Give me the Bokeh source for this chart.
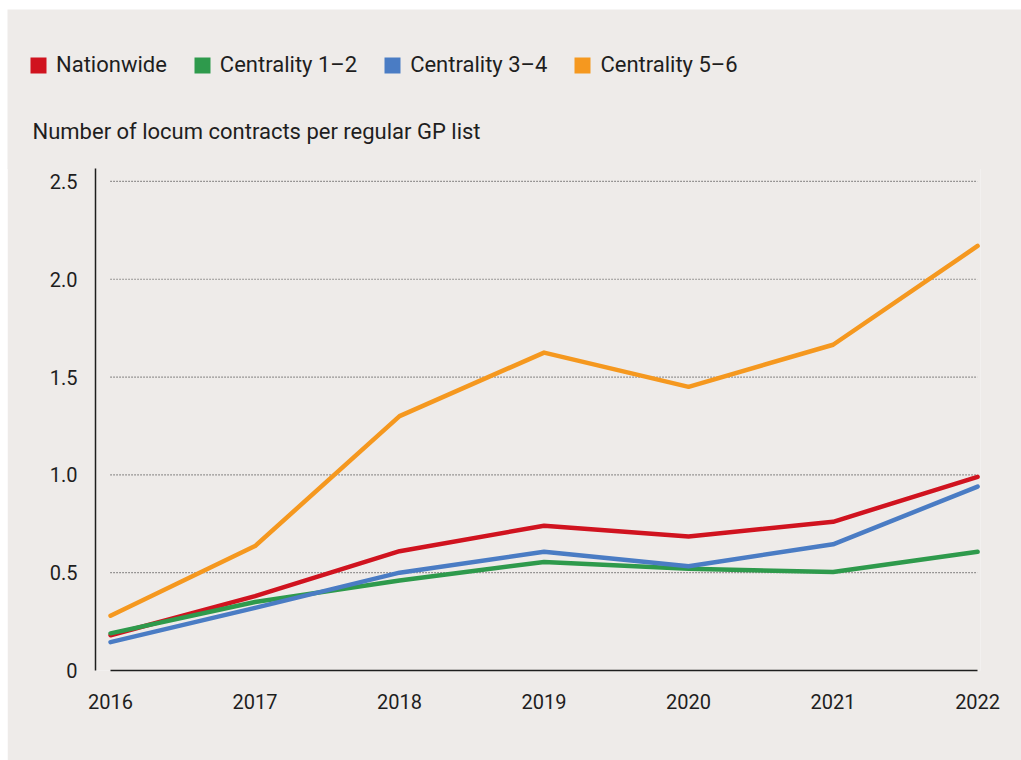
from bokeh.plotting import figure
from bokeh.models import Range1d, FixedTicker, Legend, LegendItem, Label, ColumnDataSource
from bokeh.embed import file_html
from bokeh.resources import INLINE

# ---- data ----
years = [2016, 2017, 2018, 2019, 2020, 2021, 2022]
nationwide = [0.18, 0.38, 0.61, 0.74, 0.685, 0.76, 0.99]
centrality_1_2 = [0.19, 0.35, 0.46, 0.555, 0.52, 0.503, 0.607]
centrality_3_4 = [0.145, 0.32, 0.50, 0.607, 0.533, 0.645, 0.94]
centrality_5_6 = [0.28, 0.636, 1.30, 1.625, 1.45, 1.665, 2.17]
series_names = ["Nationwide", "Centrality 1–2", "Centrality 3–4", "Centrality 5–6"]
y_ticks = [0, 0.5, 1.0, 1.5, 2.0, 2.5]
y_tick_labels = ["0", "0.5", "1.0", "1.5", "2.0", "2.5"]
x_tick_labels = ["2016", "2017", "2018", "2019", "2020", "2021", "2022"]
axis_title = "Number of locum contracts per regular GP list"

# ---- style ----
colors = ["#d0131f", "#2e9a4c", "#4a7cc4", "#f5981f"]
bg = "#eeebe9"
ink = "#1e1e1e"
font = "Roboto"

# ---------- header figure: legend + axis title ----------
head = figure(width=1014, height=160, output_backend="svg", toolbar_location=None,
              title=None, margin=(9, 0, 0, 7),
              x_range=Range1d(0, 1), y_range=Range1d(0, 1),
              x_axis_type=None, y_axis_type=None,
              min_border=0, min_border_left=0, min_border_right=0,
              min_border_top=0, min_border_bottom=0,
              background_fill_color=bg, border_fill_color=bg, outline_line_color=None)
head.xgrid.visible = False
head.ygrid.visible = False

nan = float("nan")
items = []
for name, c in zip(series_names, colors):
    src = ColumnDataSource(dict(left=[nan], right=[nan], top=[nan], bottom=[nan]))
    r = head.quad(left="left", right="right", top="top", bottom="bottom", source=src,
                  fill_color=c, line_color=None)
    items.append(LegendItem(label=name, renderers=[r]))

legend = Legend(items=items, orientation="horizontal", location=(21, 92),
                glyph_width=20, glyph_height=20, label_standoff=8, spacing=25,
                padding=0, margin=0, border_line_color=None,
                background_fill_alpha=0,
                label_text_font=font, label_text_font_size="22px",
                label_text_color=ink)
head.add_layout(legend)

title = Label(text=axis_title, x=25, y=38, x_units="screen", y_units="screen",
              text_font=font, text_font_size="22px", text_color=ink,
              text_baseline="alphabetic", text_align="left")
head.add_layout(title)

# ---------- main chart ----------
p = figure(width=1014, height=592, output_backend="svg", toolbar_location=None,
           title=None, margin=(-1, 0, 0, 7),
           x_range=Range1d(2015.896, 2022.02), y_range=Range1d(0, 2.566),
           min_border_left=88, min_border_right=41, min_border_bottom=90,
           min_border_top=0,
           background_fill_color=bg, border_fill_color=bg, outline_line_color=None)

p.xgrid.visible = False
p.ygrid.visible = False

grid_y = [t for t in y_ticks if t > 0]
p.segment(x0=[years[0]] * len(grid_y), x1=[years[-1]] * len(grid_y),
          y0=grid_y, y1=grid_y, line_color="#444444", line_width=1.2,
          line_dash="1 2")

series = [nationwide, centrality_1_2, centrality_3_4, centrality_5_6]
for vals, c in zip(series, colors):
    p.line(years, vals, line_color=c, line_width=4.5, line_cap="round", line_join="round")

p.yaxis.ticker = FixedTicker(ticks=y_ticks)
p.yaxis.major_label_overrides = dict(zip(y_ticks, y_tick_labels))
p.yaxis.major_label_standoff = 18

p.xaxis.ticker = FixedTicker(ticks=years)
p.xaxis.major_label_overrides = dict(zip(years, x_tick_labels))
p.xaxis.major_label_standoff = 23
p.xaxis.bounds = (years[0], years[-1])

for ax in (p.xaxis, p.yaxis):
    ax.major_tick_out = 0
    ax.major_tick_in = 0
    ax.minor_tick_out = 0
    ax.minor_tick_in = 0
    ax.axis_line_color = ink
    ax.axis_line_width = 1.5
    ax.major_label_text_font = font
    ax.major_label_text_font_size = "20px"
    ax.major_label_text_color = ink

open("out.html", "w").write(file_html([head, p], INLINE))
